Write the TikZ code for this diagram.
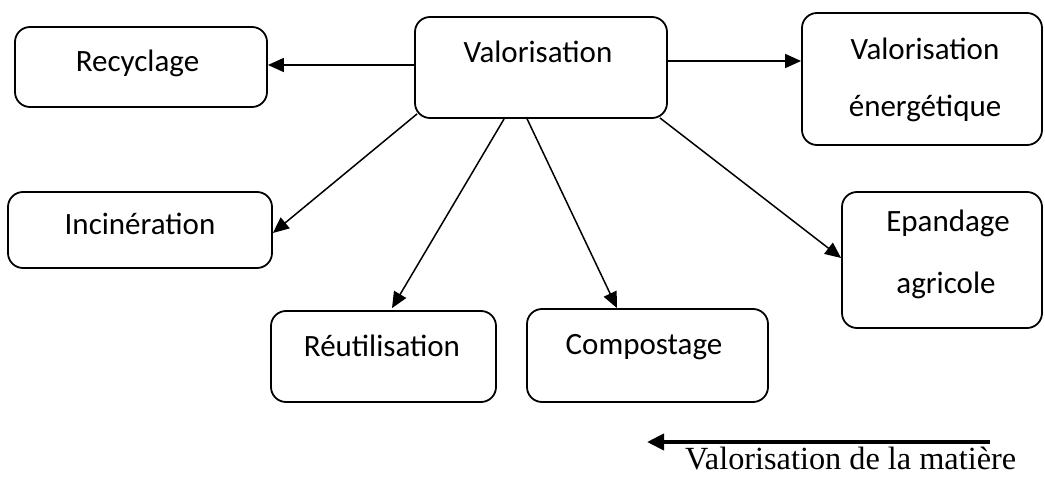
\documentclass[tikz,border=0pt]{standalone}
\usepackage{fontspec}
\setmainfont{Carlito}
\newfontfamily\tnr{Liberation Serif}
\usetikzlibrary{arrows.meta}
\begin{document}
\begin{tikzpicture}[x=1pt,y=-1pt,
  box/.style={draw=black, line width=1.8pt, rounded corners=15pt, inner sep=0pt},
  lbl/.style={anchor=base, inner sep=0pt, font=\fontsize{31}{37}\selectfont},
  arr/.style={draw=black, line width=1.5pt, -{Triangle[length=16pt,width=14pt]}},
  bigarr/.style={draw=black, line width=4pt, -{Triangle[length=17pt,width=16pt]}}]
\useasboundingbox (0,0) rectangle (1045,481);
% boxes
\node[box, minimum width=252pt, minimum height=80pt]  (rec)  at (141,67) {};
\node[box, minimum width=252pt, minimum height=101pt] (val)  at (541,67.5) {};
\node[box, minimum width=240pt, minimum height=132pt] (ener) at (922,79) {};
\node[box, minimum width=264pt, minimum height=76pt]  (inc)  at (140,230) {};
\node[box, minimum width=225pt, minimum height=91pt]  (reut) at (383.5,356.5) {};
\node[box, minimum width=241pt, minimum height=93pt]  (comp) at (647.5,355.5) {};
\node[box, minimum width=200pt, minimum height=136pt] (epa)  at (942,260) {};
% texts
\node[lbl] (trec)  at (137.5,72) {Recyclage};
\node[lbl] (tval)  at (538,63) {Valorisation};
\node[lbl] (tener1) at (925,60) {Valorisation};
\node[lbl] (tener2) at (925,117) {énergétique};
\node[lbl] (tinc)  at (140,235) {Incinération};
\node[lbl] (treut) at (382,356) {Réutilisation};
\node[lbl] (tcomp) at (644,354) {Compostage};
\node[lbl] (tepa1) at (948,232) {Epandage};
\node[lbl] (tepa2) at (946,294) {agricole};
% connectors
\draw[arr] ([yshift=2.5pt]val.west) -- ([yshift=2.5pt]val.west -| rec.east);
\draw[arr] ([yshift=6.5pt]val.east) -- ([yshift=6.5pt]val.east -| ener.west);
\draw[arr] ([xshift=3pt,yshift=5pt]val.south west) -- ([yshift=-3pt]inc.east);
\draw[arr] ([xshift=90pt]val.south west) -- ([xshift=8.5pt,yshift=2pt]reut.north);
\draw[arr] ([xshift=113pt]val.south west) -- ([xshift=-30.5pt]comp.north);
\draw[arr] ([xshift=-8pt,yshift=1pt]val.south east) -- ([yshift=2pt]epa.west);
% legend arrow
\coordinate (bs) at (990,442);
\coordinate (be) at (647,442);
\draw[bigarr] (bs) -- (be);
\node[anchor=base west, inner sep=0pt, font=\tnr\fontsize{32.3}{38}\selectfont] (leg) at (685,469) {Valorisation de la matière};
\end{tikzpicture}
\end{document}
